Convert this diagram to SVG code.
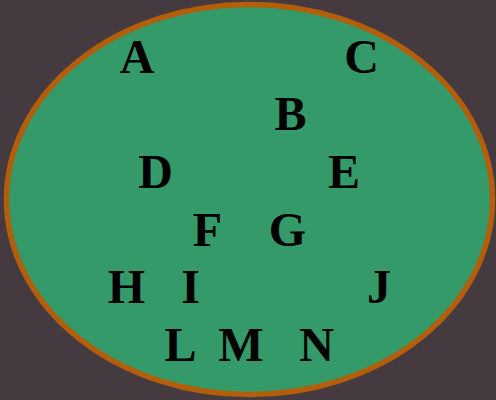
<svg xmlns="http://www.w3.org/2000/svg" width="496" height="400" viewBox="0 0 496 400">
<style>
.lbl{font-family:"Liberation Serif","Times New Roman",serif;font-weight:bold;font-size:48px;fill:#000;text-anchor:middle}
</style>
<rect width="496" height="400" fill="#453a3f"/>
<g id="set">
<ellipse cx="249.5" cy="199.5" rx="243" ry="195" fill="#359a6a" stroke="#b35e0a" stroke-width="5.5"/>
</g>
<g id="A"><text class="lbl" x="137" y="73">A</text></g>
<g id="C"><text class="lbl" x="361.5" y="73">C</text></g>
<g id="B"><text class="lbl" x="290.5" y="129.5">B</text></g>
<g id="D"><text class="lbl" x="155.5" y="187.5">D</text></g>
<g id="E"><text class="lbl" x="344" y="187.5">E</text></g>
<g id="F"><text class="lbl" x="207.5" y="246">F</text></g>
<g id="G"><text class="lbl" x="287.5" y="246">G</text></g>
<g id="H"><text class="lbl" x="126.5" y="303">H</text></g>
<g id="I"><text class="lbl" x="190.5" y="303">I</text></g>
<g id="J"><text class="lbl" x="379" y="303">J</text></g>
<g id="L"><text class="lbl" x="180.5" y="361">L</text></g>
<g id="M"><text class="lbl" x="241" y="361">M</text></g>
<g id="N"><text class="lbl" x="316.5" y="361">N</text></g>
</svg>
